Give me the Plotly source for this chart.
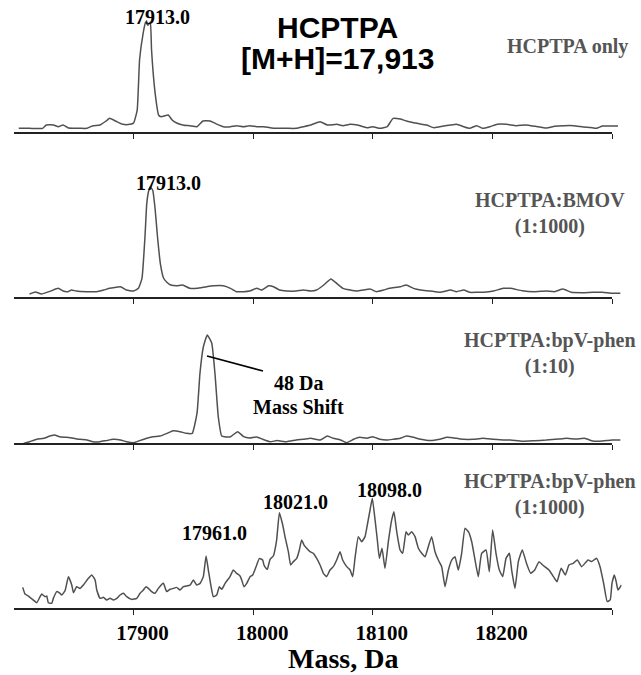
import plotly.graph_objects as go

# ---------------- data (mass in Da, relative intensity) ----------------
p1_mass = [17804, 17813, 17824, 17827, 17833, 17837, 17841, 17845, 17851, 17855, 17861, 17866,
           17872, 17877, 17880, 17886, 17891, 17897, 17900, 17903, 17905, 17908, 17910, 17912,
           17914, 17915, 17918, 17921, 17923, 17929, 17932, 17936, 17942, 17947, 17953, 17958,
           17964, 17970, 17975, 17981, 17986, 17992, 17997, 18003, 18009, 18014, 18020, 18028,
           18036, 18042, 18048, 18056, 18062, 18070, 18075, 18081, 18087, 18095, 18100, 18106,
           18112, 18117, 18123, 18128, 18137, 18145, 18151, 18156, 18165, 18170, 18176, 18181,
           18187, 18192, 18198, 18204, 18212, 18220, 18228, 18236, 18245, 18252, 18260, 18268,
           18276, 18282, 18287, 18292, 18298, 18305]
p1_int = [4.2, 4.2, 4.2, 7.2, 7.2, 5.7, 7.2, 4.8, 4.2, 4.2, 4.2, 6.6,
          7.2, 10.8, 13.2, 10.2, 7.8, 7.8, 9, 20.7, 66, 90, 100, 97,
          100, 75, 36, 16, 14.7, 16.2, 12, 9, 7, 6.6, 5.7, 10.8,
          10.8, 7.8, 5.7, 5.7, 6.6, 5.7, 6.6, 5.7, 5.7, 4.8, 4.2, 4.2,
          4.2, 5.7, 7.2, 10.2, 7.2, 7.8, 6.6, 7.8, 7.2, 4.8, 5.7, 4.2,
          5.7, 13.2, 12.6, 10.8, 8.7, 7.2, 4.8, 5.7, 7.2, 7.8, 5.7, 4.2,
          6.6, 4.2, 5.7, 7.8, 7.8, 6.6, 7.2, 6.0, 4.5, 6.0, 6.6, 6.6,
          5.5, 5.0, 4.2, 6.3, 6.3, 6.3]

p2_mass = [17813, 17818, 17823, 17830, 17837, 17841, 17845, 17848, 17852, 17861, 17869, 17875,
           17880, 17889, 17894, 17900, 17904, 17907, 17909.5, 17911, 17912.5, 17914, 17916, 17918,
           17920, 17922.5, 17925, 17928, 17931, 17936, 17941, 17947, 17953, 17961, 17967, 17975,
           17981, 17986, 17992, 17997, 18003, 18007, 18013, 18017, 18022, 18028, 18036, 18042,
           18048, 18053, 18059, 18065, 18070, 18075, 18081, 18087, 18092, 18098, 18103, 18109,
           18114, 18123, 18128, 18134, 18140, 18148, 18156, 18165, 18170, 18176, 18181, 18187,
           18193, 18201, 18209, 18215, 18225, 18235, 18245, 18252, 18259, 18266, 18275, 18284,
           18292, 18300, 18307]
p2_int = [3.6, 5.4, 3.6, 6.0, 8.7, 6.3, 5.7, 7.2, 6.3, 5.7, 5.7, 7.2,
          8.7, 10.2, 7.2, 6.3, 8.7, 17.7, 55, 85, 96, 100, 97, 80,
          55, 30, 18, 14, 11.7, 11, 11.7, 8.7, 8.7, 10.2, 11, 11,
          8.7, 5.7, 5.7, 6.3, 8.7, 7.2, 11, 10.2, 7.2, 6.3, 6.3, 7.2,
          6.3, 7.2, 11.7, 17.2, 13, 8.7, 7.2, 6.3, 7.2, 8.0, 5.7, 7.2,
          8.7, 10.2, 11.7, 8.7, 7.2, 6.3, 5.1, 7.2, 5.7, 7.2, 5.1, 5.1,
          5.1, 6.3, 8.7, 8.7, 6.5, 5.7, 6.3, 5.7, 8.0, 5.1, 4.8, 5.1,
          5.1, 4.2, 4.2]

p3_mass = [17808, 17813, 17819, 17825, 17830, 17834, 17838, 17844, 17850, 17855, 17861, 17866,
           17872, 17877, 17883, 17889, 17894, 17900, 17905, 17911, 17916, 17922, 17928, 17933,
           17939, 17944, 17949, 17953, 17955.5, 17958.3, 17961.6, 17965.3, 17968, 17970.8, 17973.7, 17976,
           17981, 17987, 17992, 17997, 18003, 18008, 18014, 18020, 18028, 18036, 18042, 18048,
           18056, 18062, 18067, 18073, 18078, 18084, 18089, 18095, 18100, 18106, 18112, 18117,
           18123, 18128, 18134, 18140, 18148, 18156, 18162, 18170, 18176, 18184, 18192, 18201,
           18209, 18215, 18225, 18235, 18245, 18255, 18262, 18270, 18277, 18284, 18292, 18300,
           18307]
p3_int = [0.6, 2.1, 4.3, 5.2, 7.3, 8.3, 6.7, 6.1, 5.2, 4.3, 3.7, 2.1,
          2.1, 3.1, 4.3, 3.7, 2.1, 1.2, 3.1, 5.2, 6.7, 7.3, 9.8, 12.2,
          11.3, 9.8, 9.8, 28, 65, 89, 100, 92.6, 65, 25, 7.3, 6.7,
          6.7, 11.3, 6.7, 5.5, 6.5, 4.3, 2.1, 3.1, 2.1, 3.7, 4.3, 5.2,
          3.7, 7.3, 5.2, 3.7, 1.2, 4.3, 6.1, 5.2, 6.7, 4.3, 3.7, 4.3,
          5.2, 7.3, 6.1, 4.3, 3.1, 4.3, 6.1, 5.2, 4.3, 4.3, 5.2, 4.3,
          3.7, 3.7, 2.5, 3.0, 3.6, 4.5, 5.2, 4.5, 5.2, 2.7, 2.7, 3.6,
          3.6]

p4_mass = [17807.3, 17809.2, 17812, 17816.2, 17819, 17821.8, 17823.2, 17826, 17827.4, 17828.7,
           17831.5, 17832.9, 17835.7, 17838.5, 17839.9, 17842.7, 17845.5, 17848.3, 17849.7, 17852.4,
           17855.2, 17858, 17862.2, 17865, 17867.8, 17869.2, 17872, 17874.7, 17877.5, 17880.3,
           17883.1, 17885.9, 17888.7, 17891.5, 17894.2, 17898.4, 17902.6, 17905.4, 17908.2, 17910.4,
           17912.4, 17915.1, 17917.9, 17920.7, 17924.9, 17927.7, 17930.5, 17933.3, 17936, 17938.8,
           17941.6, 17947.2, 17950, 17952.8, 17955.6, 17958.3, 17960.6, 17962.5, 17964.8, 17966.7,
           17969.5, 17971.7, 17973.7, 17976.5, 17980.6, 17983.4, 17986.2, 17989, 17990.4, 17992.3,
           17994.6, 17997.4, 17999.6, 18002.4, 18005.2, 18007.9, 18009, 18010.7, 18011.8, 18014.1,
           18016.8, 18019.6, 18021.9, 18024.7, 18026.6, 18029.4, 18031.3, 18033.6, 18036.4, 18038.6,
           18040.5, 18042.5, 18044.7, 18047.5, 18050.3, 18053.1, 18055.9, 18058.7, 18061.4, 18064.2,
           18067, 18069.8, 18072.6, 18074.8, 18078.2, 18081, 18083.2, 18085.1, 18087.9, 18090.7,
           18093.5, 18095.4, 18097.7, 18099.6, 18101.9, 18103.8, 18105.5, 18107.7, 18110.2, 18113,
           18115.8, 18117.7, 18120, 18122.8, 18125, 18127.8, 18129.7, 18132.5, 18135.3, 18138.1,
           18140.9, 18143.7, 18146.4, 18149.2, 18152, 18154.8, 18157.6, 18160.4, 18163.2, 18166,
           18168.7, 18171.5, 18174.3, 18177.1, 18179.9, 18182.7, 18185.5, 18188.2, 18191, 18194.7,
           18197.4, 18200.2, 18203, 18205.8, 18208.6, 18211.4, 18214.2, 18216.1, 18218.9, 18221.7,
           18225, 18228.5, 18232, 18235.4, 18239, 18242, 18247.3, 18251, 18254, 18257.5,
           18261, 18264, 18267.6, 18271, 18274.6, 18280, 18283, 18287, 18290, 18293,
           18296, 18298.5, 18300, 18302, 18303.5, 18305, 18308]
p4_int = [19.3, 13.4, 11.6, 8.0, 5.6, 11.0, 13.4, 11.0, 11.6, 5.6,
          5.1, 9.5, 15.5, 14.0, 12.5, 16.4, 28.9, 21.4, 14.6, 19.9,
          18.4, 21.4, 27.4, 30.4, 25.9, 17.0, 9.5, 10.4, 8.0, 9.5,
          8.0, 9.5, 12.5, 14.0, 11.0, 8.6, 9.5, 14.0, 17.0, 19.9,
          18.4, 15.5, 14.0, 18.4, 22.9, 15.5, 17.6, 18.4, 19.3, 17.0,
          19.9, 21.4, 25.9, 21.4, 22.9, 28.9, 47.3, 34.8, 19.9, 11.0,
          12.5, 19.9, 17.6, 22.9, 28.9, 34.8, 31.8, 29.5, 25.9, 19.9,
          22.9, 28.9, 30.4, 37.8, 45.2, 43.7, 39.3, 36.3, 35.4, 44.3,
          47.3, 61.6, 86.0, 75.0, 64.6, 51.2, 39.3, 42.3, 45.2, 52.7,
          61.6, 57.1, 54.2, 51.2, 49.7, 45.2, 39.3, 31.8, 28.9, 34.8,
          37.8, 43.7, 51.2, 43.7, 37.8, 34.8, 28.9, 45.2, 64.6, 60.1,
          64.6, 75.0, 88.4, 98.8, 79.5, 61.6, 45.2, 54.2, 36.3, 60.1,
          79.5, 86.9, 69.0, 52.7, 49.7, 69.0, 66.1, 69.0, 64.6, 54.2,
          49.7, 46.7, 55.6, 64.6, 51.2, 43.7, 37.8, 19.9, 34.8, 43.7,
          46.7, 34.8, 49.7, 72.0, 69.0, 60.1, 43.7, 28.9, 49.7, 52.7,
          33.3, 70.5, 49.7, 34.8, 28.9, 45.2, 49.7, 34.8, 18.4, 42.3,
          52.7, 40.8, 31.9, 34.9, 42.3, 39.3, 34.9, 28.9, 24.4, 36.4,
          30.4, 39.3, 40.8, 43.8, 37.8, 43.8, 42.3, 45.3, 37.8, 23.0,
          6.6, 8.1, 23.0, 30.4, 24.4, 17.0, 21.5]

tick_vals = [17900, 18000, 18100, 18200, 18300]
tick_text = ["17900", "18000", "18100", "18200", ""]

sample_labels = ["HCPTPA only", "HCPTPA:BMOV<br>(1:1000)",
                 "HCPTPA:bpV-phen<br>(1:10)", "HCPTPA:bpV-phen<br>(1:1000)"]

# ---------------- layout geometry (pixels) ----------------
W, H = 641, 675
X_LEFT_PX, PX_PER_DA = 14.0, 1.196
X_MIN, X_MAX = 17800, 18308
AXIS_PY = [133, 298, 444, 609]
SPAN_PX = [111, 111, 109, 112]   # pixels for 100 intensity units
Y_MAX = 108


def py2paper(py):
    return 1 - py / H


x_dom = [X_LEFT_PX / W, (X_LEFT_PX + (X_MAX - X_MIN) * PX_PER_DA) / W]

fig = go.Figure()
series = [(p1_mass, p1_int), (p2_mass, p2_int), (p3_mass, p3_int), (p4_mass, p4_int)]
line_col = "#505050"
for i, (m, v) in enumerate(series):
    k = "" if i == 0 else str(i + 1)
    fig.add_trace(go.Scatter(x=m, y=v, mode="lines", xaxis="x" + k, yaxis="y" + k,
                             line=dict(color=line_col, width=1.5, shape="spline", smoothing=0.4),
                             hoverinfo="skip"))

layout = dict(width=W, height=H, margin=dict(l=0, r=0, t=0, b=0),
              paper_bgcolor="white", plot_bgcolor="white", showlegend=False)
shapes = []
for i in range(4):
    k = "" if i == 0 else str(i + 1)
    bottom = AXIS_PY[i]
    top = bottom - Y_MAX * SPAN_PX[i] / 100.0
    layout["xaxis" + k] = dict(
        domain=x_dom, range=[X_MIN, X_MAX], anchor="y" + k,
        showline=False, showgrid=False, zeroline=False,
        tickmode="array", tickvals=tick_vals, ticktext=tick_text,
        ticks="outside", ticklen=5, tickwidth=1.2, tickcolor="#222222",
        showticklabels=(i == 3),
        tickfont=dict(family="Liberation Serif", size=21, color="black", weight="bold"),
        ticklabelshift=9, ticklabelstandoff=0,
    )
    layout["yaxis" + k] = dict(
        domain=[py2paper(bottom), py2paper(top)], range=[0, Y_MAX], anchor="x" + k,
        visible=False, showgrid=False, zeroline=False,
    )
    shapes.append(dict(type="line", xref="x" + k, yref="y" + k + " domain",
                       x0=17800, x1=18300, y0=0, y1=0,
                       line=dict(color="#222222", width=1.8)))

# 48 Da pointer line in panel 3
shapes.append(dict(type="line", xref="x3", yref="y3", x0=17961.4, y0=80.7, x1=18008.2, y1=67,
                   line=dict(color="black", width=1.6)))
layout["shapes"] = shapes

serif_b = dict(family="Liberation Serif", size=20, color="black", weight="bold")
serif_g = dict(family="Liberation Serif", size=20, color="#555555", weight="bold")
ann = []


def add_data_text(text, xr, yr, x, y, font):
    ann.append(dict(text=text, xref=xr, yref=yr, x=x, y=y, showarrow=False,
                    xanchor="center", yanchor="middle", font=font))


def add_paper_text(text, px, py, font, align="center"):
    ann.append(dict(text=text, xref="paper", yref="paper", x=px / W, y=py2paper(py),
                    showarrow=False, xanchor="center", yanchor="middle", font=font, align=align))


# peak labels
add_data_text("17913.0", "x", "y", 17919.6, 104.5, serif_b)
add_data_text("17913.0", "x2", "y2", 17928.8, 103.6, serif_b)
add_data_text("17961.0", "x3", "y3", 17974.7, 109, serif_b)
add_data_text("48 Da", "x3", "y3", 18037.5, 56, serif_b)
add_data_text("Mass Shift", "x3", "y3", 18038, 34, serif_b)
add_data_text("17961.0", "x4", "y4", 17968, 67.9, serif_b)
add_data_text("18021.0", "x4", "y4", 18035, 95.5, serif_b)
add_data_text("18098.0", "x4", "y4", 18114, 106, serif_b)

# sample labels (right side)
add_paper_text(sample_labels[0], 567, 47, serif_g)
add_paper_text(sample_labels[1], 550, 214, serif_g)
add_paper_text(sample_labels[2], 550, 353, serif_g)
add_paper_text(sample_labels[3], 550, 494, serif_g)

# title
title_font = dict(family="Liberation Sans", size=30, color="black", weight="bold")
add_paper_text("HCPTPA", 337, 27, title_font)
add_paper_text("[M+H]=17,913", 337, 58, title_font)

# x-axis title
add_paper_text("Mass, Da", 343, 658, dict(family="Liberation Serif", size=28, color="black", weight="bold"))

layout["annotations"] = ann
fig.update_layout(**layout)
fig.write_html("out.html")
